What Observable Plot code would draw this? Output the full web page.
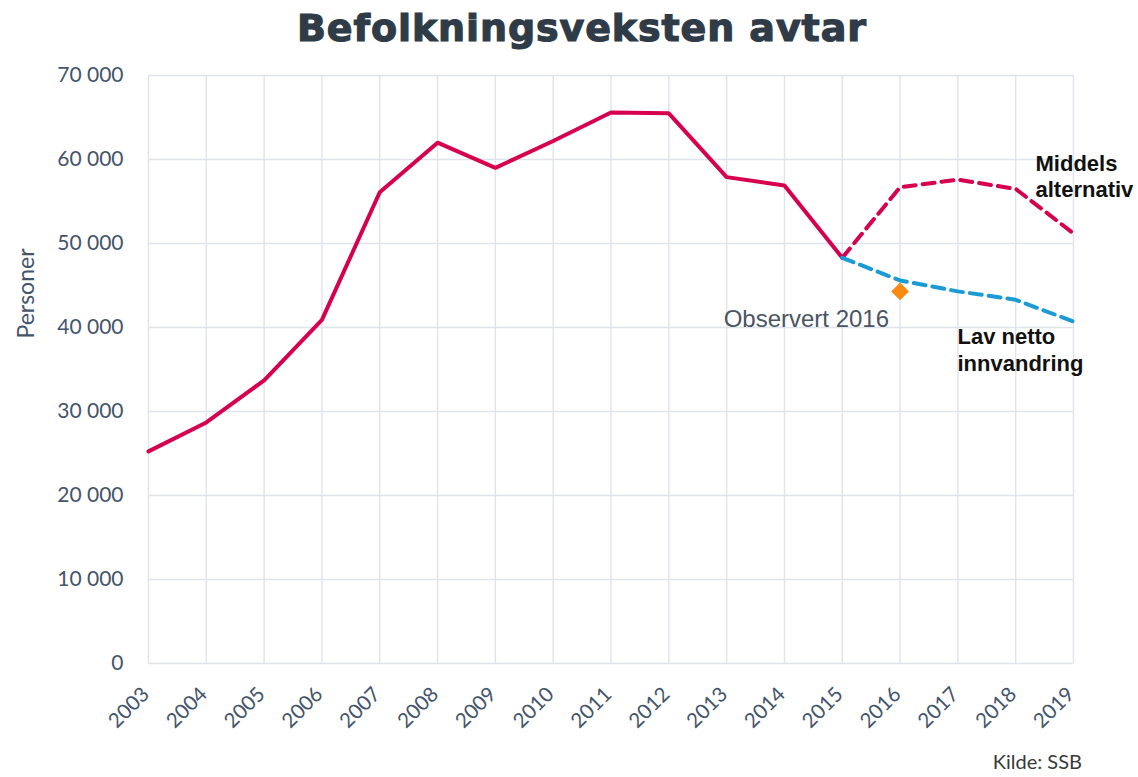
<!DOCTYPE html>
<html>
<head>
<meta charset="utf-8">
<script src="https://cdn.jsdelivr.net/npm/d3@7"></script>
<script src="https://cdn.jsdelivr.net/npm/@observablehq/plot@0.6"></script>
<style>
  html, body { margin: 0; padding: 0; background: #fff; }
  #wrap { position: relative; width: 1138px; height: 777px; overflow: hidden; }
  #title { position: absolute; left: 297px; top: 9px; margin: 0; font: bold 38px "DejaVu Sans", sans-serif; line-height: 38px; letter-spacing: 0.9px; color: #2f3b47; white-space: nowrap; -webkit-text-stroke: 1.2px #2f3b47; }
  #source { position: absolute; right: 56px; top: 751px; font: 20px "Lato", sans-serif; line-height: 20px; color: #3a3a3a; white-space: nowrap; }
  #chart { position: absolute; left: 0; top: 0; }
</style>
</head>
<body>
<div id="wrap">
  <div id="chart"></div>
  <h1 id="title">Befolkningsveksten avtar</h1>
  <div id="source">Kilde: SSB</div>
</div>
<script>
// Observed population growth
const years = [2003, 2004, 2005, 2006, 2007, 2008, 2009, 2010, 2011, 2012, 2013, 2014, 2015];
const observed = [25250, 28700, 33700, 40900, 56100, 62000, 59000, 62200, 65600, 65500, 57900, 56900, 48300];
// Projections
const projYears = [2015, 2016, 2017, 2018, 2019];
const middels = [48300, 56700, 57600, 56500, 51200];
const lavNetto = [48300, 45600, 44300, 43300, 40700];
// Observed 2016 point
const obsYear = [2016];
const obsValue = [44300];
// Tick labels
const xTicks = [2003, 2004, 2005, 2006, 2007, 2008, 2009, 2010, 2011, 2012, 2013, 2014, 2015, 2016, 2017, 2018, 2019];
const yTicks = [0, 10000, 20000, 30000, 40000, 50000, 60000, 70000];
// Labels
const labelMiddels = "Middels\nalternativ";
const labelLav = "Lav netto\ninnvandring";
const labelObs = "Observert 2016";
const yLabel = "Personer";

const obsData = years.map((year, i) => ({year, value: observed[i]}));
const midData = projYears.map((year, i) => ({year, value: middels[i]}));
const lavData = projYears.map((year, i) => ({year, value: lavNetto[i]}));
const pointData = obsYear.map((year, i) => ({year, value: obsValue[i]}));

const fmt = d => d === 0 ? "0" : d3.format(",")(d).replace(/,/g, " ");

const pink = "#d6004f";
const blue = "#1c9ad6";
const orange = "#f98a12";
const grid = "#dfe3ea";

const chart = Plot.plot({
  width: 1138,
  height: 777,
  marginTop: 75,
  marginBottom: 114,
  marginLeft: 148,
  marginRight: 65,
  style: {fontFamily: "Lato, sans-serif", fontSize: "20px", color: "#44546a", background: "transparent"},
  x: {domain: [2003, 2019]},
  y: {domain: [0, 70000]},
  marks: [
    Plot.gridX(xTicks, {stroke: grid, strokeOpacity: 1, strokeWidth: 1.4}),
    Plot.gridY(yTicks, {stroke: grid, strokeOpacity: 1, strokeWidth: 1.4}),
    Plot.axisY(yTicks, {tickSize: 0, tickPadding: 25, tickFormat: fmt, fontSize: 21, label: null}),
    Plot.text([yLabel], {frameAnchor: "left", rotate: -90, dx: -122, dy: -76, fontSize: 23,
      lineAnchor: "middle", textAnchor: "middle", fill: "#44546a"}),
    Plot.axisX(xTicks, {tickSize: 0, tickFormat: d => String(d), tickRotate: -45, textAnchor: "end",
      lineAnchor: "bottom", tickPadding: 0, dy: 32, dx: 2, fontSize: 20.5, label: null}),
    Plot.line(obsData, {x: "year", y: "value", stroke: pink, strokeWidth: 4, strokeLinejoin: "miter"}),
    Plot.line(midData, {x: "year", y: "value", stroke: pink, strokeWidth: 4, strokeDasharray: "12,7"}),
    Plot.line(lavData, {x: "year", y: "value", stroke: blue, strokeWidth: 4, strokeDasharray: "12,7"}),
    Plot.dot(pointData, {x: "year", y: "value", symbol: "diamond2", r: 8, fill: orange, stroke: "none"}),
    Plot.text(midData.slice(-1), {x: "year", y: "value", text: () => labelMiddels, textAnchor: "start",
      lineAnchor: "bottom", lineHeight: 1.18, dx: -38, dy: -36, fontSize: 22, fontWeight: "bold",
      fontFamily: "Liberation Sans, Arial, sans-serif", fill: "#111"}),
    Plot.text(lavData.slice(-1), {x: "year", y: "value", text: () => labelLav, textAnchor: "start",
      lineAnchor: "bottom", lineHeight: 1.23, dx: -116, dy: 49, fontSize: 22, fontWeight: "bold",
      fontFamily: "Liberation Sans, Arial, sans-serif", fill: "#111"}),
    Plot.text(pointData, {x: "year", y: "value", text: () => labelObs, textAnchor: "end",
      lineAnchor: "bottom", dx: -11, dy: 36, fontSize: 24,
      fontFamily: "Liberation Sans, Arial, sans-serif", fill: "#4a5563"})
  ]
});
document.getElementById("chart").appendChild(chart);
</script>
</body>
</html>
